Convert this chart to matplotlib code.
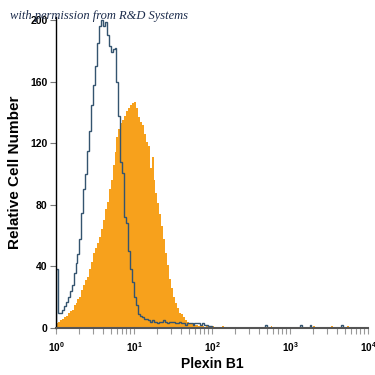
import numpy as np
import matplotlib
matplotlib.use('Agg')
import matplotlib.pyplot as plt

# ---- data (counts per channel, bins of 0.025 decades starting at 10^0) ----
bin_width_decades = 0.025
isotype_counts = [38, 10, 10, 12, 14, 17, 20, 24, 28, 36,
                  42, 48, 58, 75, 90, 100, 115, 128, 145, 158,
                  170, 185, 196, 200, 196, 199, 190, 183, 179, 181,
                  182, 160, 138, 108, 101, 72, 68, 50, 38, 30,
                  20, 15, 9, 8, 7, 6, 6, 5, 4, 5,
                  4, 4, 3, 4, 4, 5, 4, 3, 4, 4,
                  4, 3, 3, 4, 3, 3, 2, 3, 3, 3,
                  2, 3, 3, 3, 2, 3, 2, 2, 1, 1]
plexin_counts = [3, 4, 5, 6, 7, 8, 10, 11, 12, 15,
                 16, 19, 20, 25, 28, 31, 33, 38, 43, 49,
                 52, 55, 59, 64, 70, 77, 82, 90, 96, 106,
                 114, 124, 129, 133, 135, 138, 141, 143, 145, 146,
                 147, 143, 137, 134, 132, 126, 121, 118, 104, 111,
                 96, 88, 81, 74, 66, 58, 49, 41, 32, 26,
                 20, 16, 13, 10, 9, 7, 5, 4, 3, 3,
                 3, 2, 2, 1, 1, 1, 0, 1, 0, 0]
# sparse events beyond 10^2 (log10 position, count)
isotype_tail_log = [2.69, 3.13, 3.27, 3.67]
isotype_tail_counts = [2, 2, 2, 2]
plexin_tail_log = [2.0, 2.13, 2.77, 3.32, 3.55, 3.74]
plexin_tail_counts = [1, 1, 1, 1, 1, 1]

y_ticks = [0, 40, 80, 120, 160, 200]
x_ticks = [1, 10, 100, 1000, 10000]
x_tick_labels = [r'$\mathbf{10^{0}}$', r'$\mathbf{10^{1}}$', r'$\mathbf{10^{2}}$',
                 r'$\mathbf{10^{3}}$', r'$\mathbf{10^{4}}$']

# ---- build full 4-decade arrays ----
n_bins = int(round(4 / bin_width_decades))
edges = 10 ** (np.arange(n_bins + 1) * bin_width_decades)
iso = np.zeros(n_bins)
ple = np.zeros(n_bins)
iso[:len(isotype_counts)] = isotype_counts
ple[:len(plexin_counts)] = plexin_counts
for p, c in zip(isotype_tail_log, isotype_tail_counts):
    iso[int(p / bin_width_decades)] += c
for p, c in zip(plexin_tail_log, plexin_tail_counts):
    ple[int(p / bin_width_decades)] += c

plt.rcParams['mathtext.fontset'] = 'custom'
plt.rcParams['mathtext.bf'] = 'Liberation Sans:bold'
plt.rcParams['mathtext.rm'] = 'Liberation Sans'

fig = plt.figure(figsize=(3.75, 3.75), dpi=100)
ax = fig.add_axes([56 / 375, 47 / 375, 312 / 375, 311 / 375])

ax.stairs(ple, edges, fill=True, color='#F7A11C', linewidth=0)
ax.stairs(iso, edges, fill=False, color='#34546f', linewidth=1.0)

ax.set_xscale('log')
ax.set_xlim(1, 10000)
ax.set_ylim(0, 202)

ax.set_yticks(y_ticks)
ax.set_yticklabels([str(v) for v in y_ticks], fontsize=7.5, fontweight='bold',
                   family=['Liberation Sans', 'DejaVu Sans'])
ax.set_xticks(x_ticks)
ax.set_xticklabels(x_tick_labels, fontsize=7.2)
ax.xaxis.set_minor_locator(matplotlib.ticker.LogLocator(base=10, subs=np.arange(2, 10)))
ax.xaxis.set_minor_formatter(matplotlib.ticker.NullFormatter())

ax.tick_params(axis='y', direction='out', length=4, width=0.8, color='#777777', pad=2)
ax.tick_params(axis='x', which='both', direction='out', length=4, width=0.8,
               color='#999999', pad=5)

for s in ['top', 'right']:
    ax.spines[s].set_visible(False)
ax.spines['left'].set_color('black')
ax.spines['left'].set_linewidth(1.0)
ax.spines['bottom'].set_color('#555555')
ax.spines['bottom'].set_linewidth(1.5)

lab_font = ['Liberation Sans Narrow', 'Liberation Sans', 'DejaVu Sans']
ax.set_ylabel('Relative Cell Number', fontsize=11, fontweight='bold', family=lab_font, labelpad=6)
ax.set_xlabel('Plexin B1', fontsize=10, fontweight='bold', family=lab_font, labelpad=2)

fig.text(10 / 375, 1 - 16 / 375, 'with permission from R&D Systems', fontsize=9,
         fontstyle='italic', family=['Liberation Serif', 'DejaVu Serif'],
         color='#1c2c4c', va='center', ha='left', zorder=10)

fig.savefig('out.png', dpi=100)
